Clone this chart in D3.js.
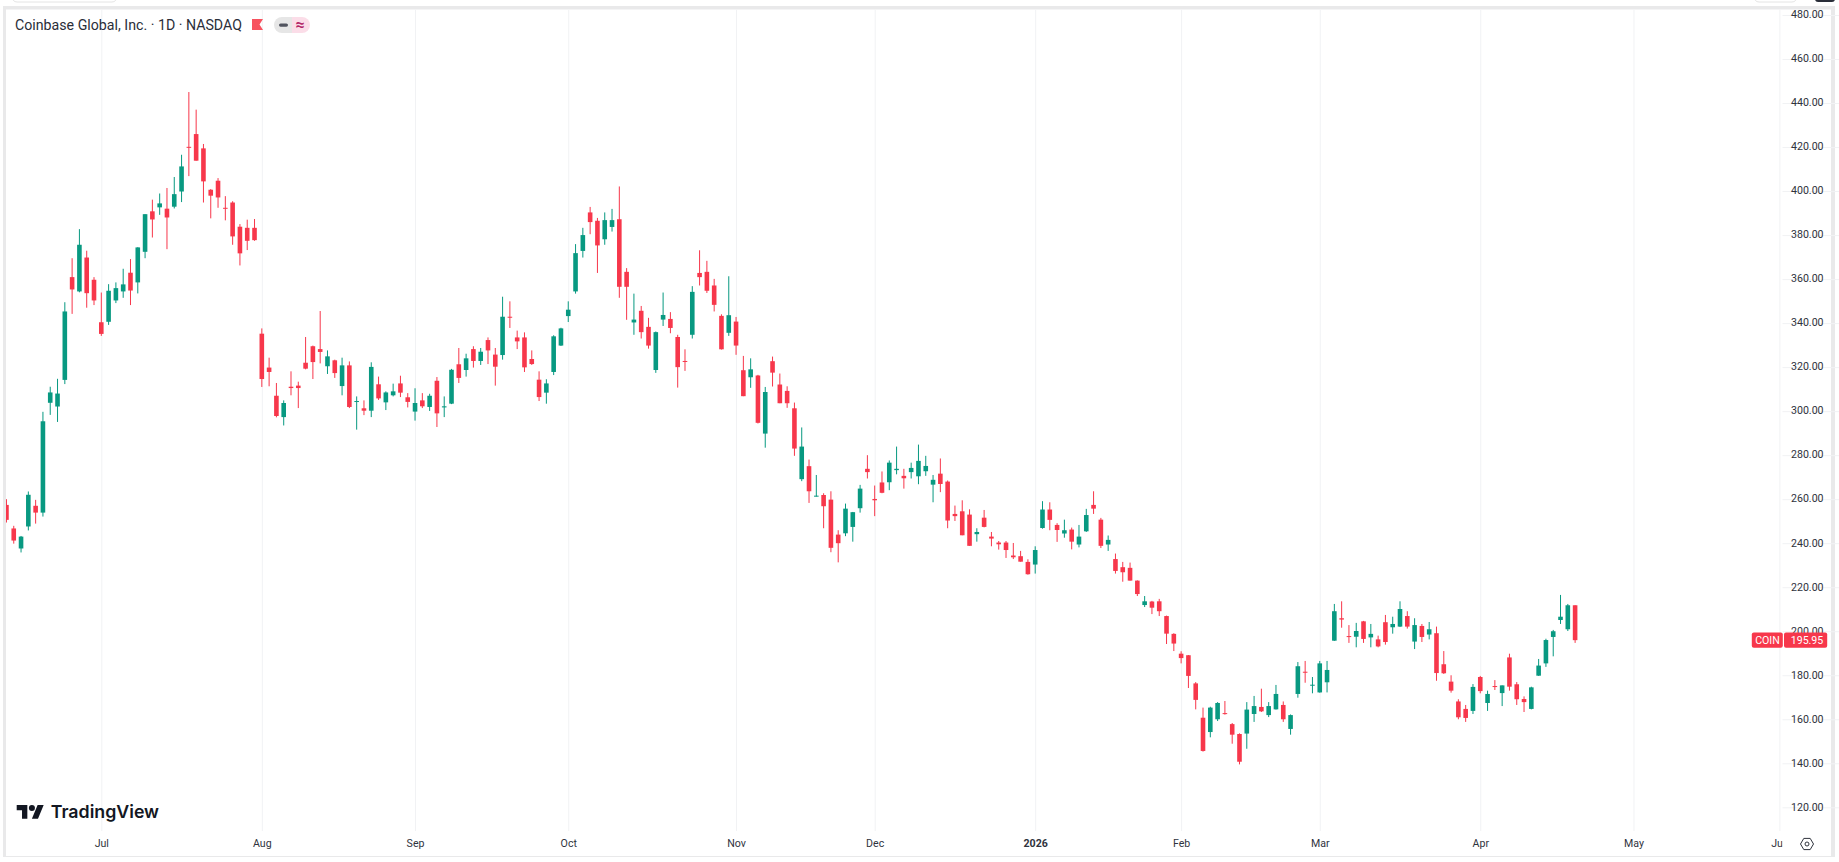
<!DOCTYPE html>
<html>
<head>
<meta charset="utf-8">
<title>COIN</title>
<script src="https://cdnjs.cloudflare.com/ajax/libs/d3/7.8.5/d3.min.js"></script>
<style>
    html, body { margin: 0; padding: 0; background: #fff; overflow: hidden; }
    svg { display: block; }
    text { font-family: Roboto, sans-serif; }
</style>
</head>
<body>
<script>
// one value per trading session, starting at firstSession (0 is the 1st of July 2025)
const firstSession = -13;
const opens = [
    257.4,246.7,237.6,247.6,257.0,253.9,303.8,302.1,314.2,360.9,
    354.4,369.8,359.7,340.4,340.6,350.3,354.4,362.9,358.5,372.4,
    390.8,392.6,392.0,392.9,399.8,420.1,425.9,419.4,400.6,404.7,
    392.4,394.8,383.8,383.3,383.3,335.2,319.8,307.0,297.3,311.1,
    311.6,322.0,329.5,328.2,320.4,323.1,311.4,320.8,304.2,301.3,
    300.2,312.2,304.0,307.2,312.6,306.3,299.8,304.9,301.9,313.8,
    301.7,303.4,321.3,318.7,328.2,322.8,332.3,325.7,325.5,342.9,
    333.5,333.5,323.7,314.3,308.4,317.8,329.8,343.2,354.4,372.8,
    390.3,386.5,378.1,383.7,387.2,363.3,340.3,345.6,338.3,318.7,
    341.6,341.9,333.7,322.8,334.7,362.8,363.3,357.1,343.3,335.6,
    340.7,318.6,315.4,316.2,289.8,322.7,312.1,309.2,301.3,269.1,
    275.0,261.3,261.9,259.8,243.9,244.5,247.4,255.9,273.8,260.1,
    267.6,267.7,273.2,270.6,272.3,270.4,272.7,266.6,271.6,268.0,
    253.3,254.5,253.0,244.1,251.6,243.0,240.3,240.3,234.4,234.1,
    231.5,230.3,246.9,255.3,248.3,244.4,246.2,239.4,245.4,257.4,
    250.7,239.4,232.8,229.1,228.8,223.0,211.9,213.5,213.6,206.9,
    198.8,189.8,189.1,176.3,160.7,154.2,160.0,162.8,157.8,153.3,
    153.5,162.4,165.6,161.9,164.5,166.5,155.6,171.5,181.6,175.3,
    172.2,176.8,195.7,205.9,197.8,197.5,204.5,197.2,196.3,204.1,
    201.8,202.1,206.9,195.3,202.4,198.5,199.1,185.0,177.1,168.1,
    164.7,163.8,179.2,167.4,175.1,171.9,188.1,175.9,169.2,164.7,
    179.8,185.4,197.4,205.1,200.9,211.8
];
const highs = [
    260.0,247.9,243.3,263.5,259.7,299.7,311.1,314.7,349.5,369.5,
    382.7,372.9,360.9,353.9,357.7,358.5,364.7,369.1,374.5,389.5,
    396.1,398.9,401.4,406.4,416.5,445.0,437.0,421.4,400.9,405.9,
    397.7,395.4,385.0,387.0,387.3,337.6,324.3,312.8,304.9,318.1,
    313.4,333.7,329.8,345.5,327.6,323.4,324.3,322.6,306.7,304.9,
    322.2,315.7,309.0,312.5,316.1,308.2,310.4,308.2,307.9,315.5,
    306.7,319.2,328.7,326.1,329.5,328.7,333.5,328.7,352.0,349.9,
    336.6,335.8,327.6,318.1,314.5,334.5,337.9,349.9,375.9,383.3,
    392.8,387.8,390.3,391.9,402.1,365.0,353.4,347.8,342.4,336.2,
    353.9,345.0,334.7,328.1,356.8,373.1,368.3,360.1,344.0,361.3,
    342.8,325.1,324.0,316.5,311.0,324.8,317.1,311.3,303.9,292.6,
    278.0,271.0,262.7,263.6,245.9,258.0,254.2,266.5,280.0,266.2,
    272.6,277.6,283.9,273.8,276.6,284.8,279.7,271.0,278.5,268.5,
    257.1,259.5,255.4,246.8,255.1,245.1,241.0,241.0,240.1,236.5,
    232.7,238.6,259.1,258.6,249.1,250.7,247.1,248.3,255.6,263.6,
    251.5,243.5,235.3,231.5,231.2,223.1,216.0,213.8,214.7,207.1,
    199.1,190.9,189.2,176.9,165.3,165.7,167.8,168.3,158.3,153.6,
    167.8,170.6,173.9,167.8,175.6,168.1,162.2,186.0,186.5,179.2,
    186.5,186.5,212.4,213.6,202.8,203.8,204.7,203.3,198.0,207.4,
    206.6,213.6,209.1,205.9,203.3,204.2,202.1,191.0,180.0,169.1,
    166.5,176.0,179.7,173.0,177.8,175.4,189.8,176.9,170.4,174.8,
    187.4,196.6,200.6,216.5,212.4,211.8
];
const lows = [
    249.4,239.8,235.8,245.8,248.9,252.1,298.3,295.1,312.3,344.2,
    354.0,347.0,348.2,334.2,339.2,349.1,351.5,348.2,353.5,369.5,
    378.9,389.2,373.6,392.1,395.0,406.8,413.8,394.8,387.6,392.4,
    386.7,375.6,366.2,373.2,377.4,311.0,311.3,297.2,293.5,307.2,
    301.4,319.0,314.6,321.7,316.9,315.1,307.2,301.4,291.6,298.2,
    297.3,305.1,300.5,306.7,306.4,301.7,295.7,301.4,300.1,292.8,
    297.3,303.2,312.8,315.7,319.8,321.0,321.4,311.6,323.4,337.8,
    328.2,317.8,321.0,304.6,303.4,316.4,329.6,340.5,353.4,369.8,
    380.4,362.8,375.6,381.6,351.5,341.5,334.7,333.0,328.4,317.4,
    338.7,335.4,310.7,318.3,333.0,357.1,353.7,345.3,328.0,334.2,
    325.6,306.8,310.6,294.4,283.4,311.2,303.6,301.5,279.7,268.2,
    258.3,261.2,246.8,235.9,231.3,243.2,240.7,253.9,269.4,252.3,
    262.7,264.1,271.3,264.8,269.4,266.8,270.6,258.6,263.2,246.8,
    250.1,243.6,238.8,240.7,247.2,238.6,237.1,233.3,232.8,231.6,
    225.7,226.2,246.6,245.9,240.6,242.5,237.2,238.1,245.1,253.3,
    237.8,236.5,226.2,222.5,223.0,216.0,211.0,207.8,206.9,194.2,
    191.0,185.4,174.2,164.5,145.3,151.8,159.2,162.1,148.9,139.5,
    146.6,158.8,163.3,161.0,164.4,158.8,153.0,169.8,176.6,171.8,
    172.1,172.2,195.6,201.6,194.7,192.7,194.7,192.7,192.7,193.9,
    198.9,201.9,201.2,191.9,195.1,196.3,177.5,180.6,172.1,160.0,
    158.8,162.4,171.8,163.8,173.3,166.0,173.0,166.5,163.3,164.5,
    179.7,183.8,188.6,203.3,200.1,194.7
];
const closes = [
    250.6,241.2,243.0,262.0,253.9,295.4,308.5,308.0,345.3,355.3,
    375.6,353.6,350.3,335.1,354.7,355.9,357.6,354.8,374.4,389.5,
    387.1,394.4,388.0,398.6,411.2,419.8,413.8,404.4,397.9,397.1,
    392.1,379.4,371.7,377.4,377.7,314.6,317.8,297.8,303.7,310.5,
    310.5,319.3,322.3,326.9,324.9,317.3,320.8,301.9,304.6,300.2,
    320.1,305.8,308.5,309.0,308.4,304.2,303.7,302.2,307.0,299.0,
    302.2,318.8,315.1,324.0,322.8,327.0,327.6,320.2,342.9,342.6,
    331.7,319.9,321.4,306.4,312.6,334.0,337.6,346.1,371.8,380.0,
    385.9,375.3,386.8,386.8,356.5,356.5,341.6,335.9,329.8,335.9,
    343.7,337.8,320.0,322.5,354.2,360.9,354.7,348.3,328.1,343.6,
    329.8,306.8,319.0,294.7,308.7,317.5,303.6,303.6,283.0,283.9,
    263.6,261.6,256.8,237.9,240.0,255.7,254.1,264.8,272.3,259.5,
    262.9,276.6,273.8,269.5,274.2,277.4,275.1,268.8,266.9,250.3,
    252.3,243.6,238.8,245.1,247.4,242.1,239.5,236.9,233.6,231.6,
    225.9,236.9,255.3,250.6,246.0,245.9,240.7,243.0,252.8,255.7,
    238.8,241.5,227.4,226.8,223.0,216.9,213.6,210.7,209.1,198.9,
    194.4,187.8,179.7,168.8,145.6,165.3,167.4,162.4,153.0,140.7,
    164.4,166.0,163.6,166.0,171.5,160.0,161.9,184.1,181.3,175.7,
    185.4,182.4,209.1,205.3,197.4,200.1,196.5,198.8,193.1,195.1,
    203.3,210.1,202.1,202.8,197.4,200.9,181.0,180.9,173.0,160.9,
    160.6,174.7,172.8,171.5,174.7,175.4,174.8,169.1,167.8,174.5,
    184.4,196.0,200.0,206.6,211.8,195.95
];

const monthLabels = ["Jul","Aug","Sep","Oct","Nov","Dec","2026","Feb","Mar","Apr","May","Jun"];
const monthSessions = [0,22,43,64,87,106,128,148,167,189,210,230];
const priceTicks = [120,140,160,180,200,220,240,260,280,300,320,340,360,380,400,420,440,460,480];
const titleText = "Coinbase Global, Inc. · 1D · NASDAQ";
const symbol = "COIN";

function CandleChart() {
    let obj = {};
    const width = 1839, height = 862;
    const panel = {left: 6, right: 1782.5, top: 9.5, bottom: 831, end: 856};
    const up = "#089981", down = "#f7374b", grid = "#f1f2f4", ink = "#2f333d";
    const bodyWidth = 4.6;
    let svg, xscale, yscale;

    obj.setUpChart = () => {
        obj.createSvg();
        obj.createScale();
        obj.createLogo();
        obj.createCandles();
        obj.createHeader();
        obj.createPriceTag();
    };

    obj.createSvg = () => {
        svg = d3.select("body").append("svg")
            .attr("width", width)
            .attr("height", height);

        // grey frame of the page around the white chart panel
        svg.append("rect").attr("width", width).attr("height", height).attr("fill", "#fff");
        svg.append("rect").attr("x", 3).attr("y", 6).attr("width", 1832).attr("height", 851).attr("fill", "#e9e9ea");
        svg.append("rect").attr("x", panel.left).attr("y", panel.top)
            .attr("width", 1831 - panel.left).attr("height", panel.end - panel.top).attr("fill", "#fff");
        // bits of the toolbar cut by the top edge
        svg.append("rect").attr("x", 12).attr("y", -10).attr("width", 105).attr("height", 12).attr("rx", 5)
            .attr("fill", "#fff").attr("stroke", "#e4e4e4");
        svg.append("rect").attr("x", 1754).attr("y", -10).attr("width", 43).attr("height", 12).attr("rx", 5)
            .attr("fill", "#fff").attr("stroke", "#e4e4e4");
        svg.append("rect").attr("x", 1815).attr("y", -10).attr("width", 20).attr("height", 12).attr("rx", 3)
            .attr("fill", "#2a2e39");

        svg.append("clipPath").attr("id", "plot").append("rect")
            .attr("x", panel.left).attr("y", panel.top)
            .attr("width", panel.right - panel.left).attr("height", panel.end - panel.top);
    };

    obj.createScale = () => {
        xscale = d3.scaleLinear().domain([firstSession, 230]).range([6.45, 1779.4]);
        yscale = d3.scaleLinear().domain([120, 480]).range([807.3, 15]);

        // horizontal grid
        const y_grid = d3.axisLeft(yscale)
            .tickValues(priceTicks)
            .tickSize(-(panel.right - panel.left))
            .tickFormat("");
        const gy = svg.append("g")
            .attr("transform", "translate(" + panel.right + ",0)")
            .call(y_grid);
        gy.select(".domain").remove();
        gy.selectAll("line").attr("stroke", grid);

        // month grid and labels, "Jun" gets cut by the price scale
        const x_axis = d3.axisBottom(xscale)
            .tickValues(monthSessions)
            .tickSize(-(panel.bottom - panel.top))
            .tickPadding(8)
            .tickFormat((d, i) => monthLabels[i]);
        const gx = svg.append("g")
            .attr("clip-path", "url(#plot)")
            .append("g")
            .attr("transform", "translate(0," + panel.bottom + ")")
            .call(x_axis);
        gx.select(".domain").remove();
        gx.selectAll("line").attr("stroke", grid);
        gx.selectAll("text")
            .attr("fill", ink)
            .style("font-size", "10.6px")
            .style("font-weight", d => d === 128 ? "700" : "400");

        // price labels
        const y_axis = d3.axisRight(yscale)
            .tickValues(priceTicks)
            .tickSize(0)
            .tickPadding(8.5)
            .tickFormat(d3.format(".2f"));
        const gl = svg.append("g")
            .attr("transform", "translate(" + panel.right + ",-0.6)")
            .call(y_axis);
        gl.select(".domain").remove();
        gl.selectAll("text")
            .attr("fill", ink)
            .style("font-size", "10.6px");

        // settings icon in the corner of the axes
        const icon = svg.append("g")
            .attr("transform", "translate(1807,844)")
            .attr("fill", "none")
            .attr("stroke", ink);
        icon.append("path").attr("d", "M-6.5 0L-3.2 -5.6H3.2L6.5 0L3.2 5.6H-3.2Z");
        icon.append("circle").attr("r", 2);
    };

    obj.createLogo = () => {
        const logo = svg.append("g").attr("transform", "translate(16.7,802)");
        const mark = logo.append("g").attr("transform", "scale(0.76)").attr("fill", "#131722");
        mark.append("path").attr("d", "M14 22H7V11H0V4h14v18zM28 22h-8l7.5-18h8L28 22z");
        mark.append("circle").attr("cx", 20).attr("cy", 8).attr("r", 4);
        logo.append("text")
            .attr("x", 34)
            .attr("y", 15.5)
            .attr("fill", "#131722")
            .style("font-family", "Inter, sans-serif")
            .style("font-weight", "600")
            .style("font-size", "17.8px")
            .text("TradingView");
    };

    obj.createCandles = () => {
        const candles = svg.append("g").attr("clip-path", "url(#plot)")
            .selectAll("g")
            .data(opens)
            .enter()
            .append("g")
            .attr("fill", (d, i) => closes[i] >= d ? up : down);

        // wick
        candles.append("rect")
            .attr("x", (d, i) => xscale(firstSession + i) - 0.5)
            .attr("y", (d, i) => yscale(highs[i]))
            .attr("width", 1)
            .attr("height", (d, i) => yscale(lows[i]) - yscale(highs[i]));

        // body, never thinner than one pixel
        candles.append("rect")
            .attr("x", (d, i) => xscale(firstSession + i) - bodyWidth / 2)
            .attr("y", (d, i) => yscale(Math.max(d, closes[i])))
            .attr("width", bodyWidth)
            .attr("height", (d, i) => Math.max(1, Math.abs(yscale(d) - yscale(closes[i]))));
    };

    obj.createHeader = () => {
        svg.append("text")
            .attr("x", 15)
            .attr("y", 30)
            .attr("fill", "#2a2e39")
            .style("font-size", "14.2px")
            .text(titleText);

        // flag
        svg.append("path")
            .attr("d", "M252 19H263L259.5 24.5L263 30H252Z")
            .attr("fill", "#f7525f");

        // status pill
        svg.append("path").attr("d", "M292 17H282a8 8 0 0 0 0 16H292Z").attr("fill", "#e6e6e6");
        svg.append("path").attr("d", "M292 17H302a8 8 0 0 1 0 16H292Z").attr("fill", "#fbdde8");
        svg.append("rect").attr("x", 279).attr("y", 23.5).attr("width", 9).attr("height", 3.2).attr("rx", 1.6)
            .attr("fill", "#50535e");
        svg.append("text")
            .attr("x", 300)
            .attr("y", 30)
            .attr("text-anchor", "middle")
            .attr("fill", "#b22567")
            .style("font-size", "16px")
            .style("font-weight", "700")
            .text("≈");
    };

    obj.createPriceTag = () => {
        const last = closes[closes.length - 1];
        const y = yscale(last);
        const tag = svg.append("g").attr("transform", "translate(0," + y + ")");
        tag.append("rect").attr("x", 1751.8).attr("y", -7.6).attr("width", 31).attr("height", 15.3).attr("rx", 2).attr("fill", down);
        tag.append("rect").attr("x", 1784).attr("y", -7.6).attr("width", 43.2).attr("height", 15.3).attr("rx", 2).attr("fill", down);
        tag.append("text").attr("x", 1767.5).attr("y", 3.8).attr("text-anchor", "middle")
            .attr("fill", "#fff").style("font-size", "10.6px").text(symbol);
        tag.append("text").attr("x", 1807).attr("y", 3.8).attr("text-anchor", "middle")
            .attr("fill", "#fff").style("font-size", "10.6px").text(d3.format(".2f")(last));
    };

    return obj;
}

var candleChart = CandleChart();
candleChart.setUpChart();
</script>
</body>
</html>
